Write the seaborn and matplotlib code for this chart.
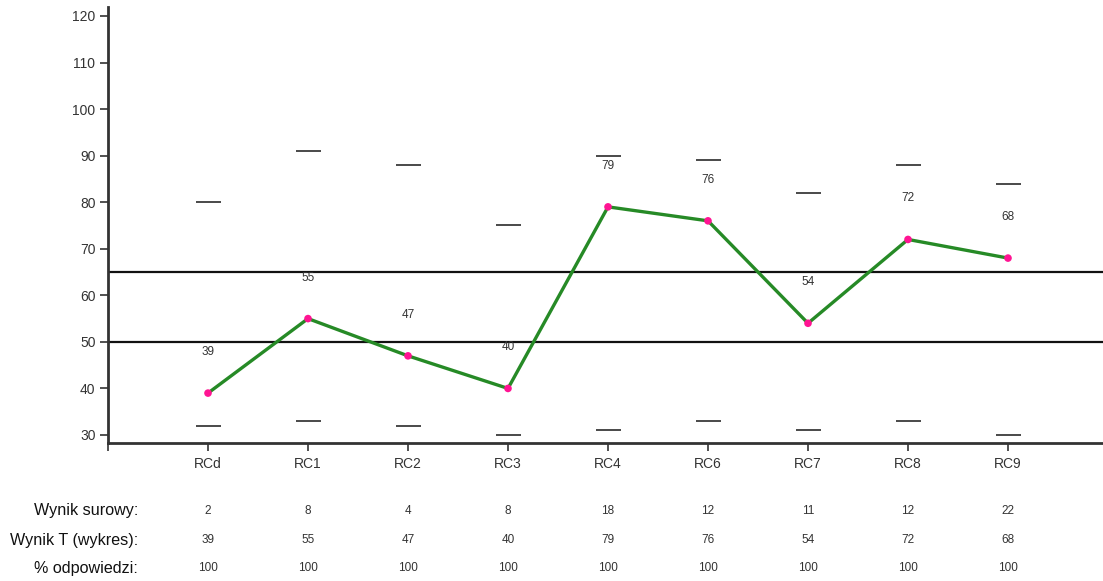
import numpy as np
import pandas as pd
import matplotlib
matplotlib.use("Agg")
import matplotlib.pyplot as plt
import matplotlib.transforms as mtransforms
from matplotlib import font_manager
import seaborn as sns

# ---- data ----
categories = ["RCd", "RC1", "RC2", "RC3", "RC4", "RC6", "RC7", "RC8", "RC9"]
t_scores = [39, 55, 47, 40, 79, 76, 54, 72, 68]
upper_marks = [80, 91, 88, 75, 90, 89, 82, 88, 84]
lower_marks = [32, 33, 32, 30, 31, 33, 31, 33, 30]
raw_scores = [2, 8, 4, 8, 18, 12, 11, 12, 22]
pct_answers = [100, 100, 100, 100, 100, 100, 100, 100, 100]
row_labels = ["Wynik surowy:", "Wynik T (wykres):", "% odpowiedzi:"]
ref_lines = [50, 65]
y_ticks = [30, 40, 50, 60, 70, 80, 90, 100, 110, 120]

sns.set_style("white")
plt.rcParams["font.family"] = ["Liberation Sans", "DejaVu Sans"]

names = {f.name for f in font_manager.fontManager.ttflist}
narrow = "Liberation Sans Narrow" if "Liberation Sans Narrow" in names else None

df = pd.DataFrame({"cat": categories, "x": np.arange(len(categories)), "t": t_scores})

fig = plt.figure(figsize=(11.03, 5.81), dpi=100)
ax = fig.add_axes([108 / 1103, 138 / 581, 1 - 108 / 1103, 436 / 581])

# reference lines
for r in ref_lines:
    ax.axhline(r, color="#111111", lw=1.6, zorder=1)

# range dashes
for i, (u, l) in enumerate(zip(upper_marks, lower_marks)):
    ax.hlines([u, l], i - 0.125, i + 0.125, color="#3a3a3a", lw=1.3, zorder=2)

sns.lineplot(data=df, x="x", y="t", color="#268a26", lw=2.4, ax=ax, zorder=3)
sns.scatterplot(data=df, x="x", y="t", color="#ff1493", s=30, edgecolor="none", ax=ax, zorder=4)

for i, v in enumerate(t_scores):
    ax.text(i, v + 8.8, str(v), ha="center", va="center", fontsize=8.5, color="#333333")

ax.set_xlim(-1.0, 8.95)
ax.set_ylim(28.28, 121.93)
ax.set_yticks(y_ticks)
ax.set_yticklabels([str(t) for t in y_ticks], fontsize=10, color="#333333")
ax.set_xticks([-1] + list(range(len(categories))))
ax.set_xticklabels([""] + categories, fontsize=10, color="#333333")
ax.tick_params(axis="both", direction="out", length=6, width=1.2, color="#333333", pad=4, left=True, bottom=True)
ax.tick_params(axis="y", pad=3)
ax.set_xlabel("")
ax.set_ylabel("")
for s in ["top", "right"]:
    ax.spines[s].set_visible(False)
for s in ["left", "bottom"]:
    ax.spines[s].set_color("#333333")
    ax.spines[s].set_linewidth(2)

# table below
trans = mtransforms.blended_transform_factory(ax.transData, fig.transFigure)
row_y = [1 - 511 / 581, 1 - 540 / 581, 1 - 568 / 581]
rows = [raw_scores, t_scores, pct_answers]
if narrow:
    lab_kw = dict(fontsize=14, color="#111111", family=narrow)
else:
    lab_kw = dict(fontsize=11.6, color="#111111")
for y, lab, vals in zip(row_y, row_labels, rows):
    ax.text(-0.7, y, lab, transform=trans, ha="right", va="center", clip_on=False, **lab_kw)
    for i, v in enumerate(vals):
        ax.text(i, y, str(v), transform=trans, ha="center", va="center", fontsize=8.5,
                color="#333333", clip_on=False)

fig.savefig("out.png", dpi=100)
